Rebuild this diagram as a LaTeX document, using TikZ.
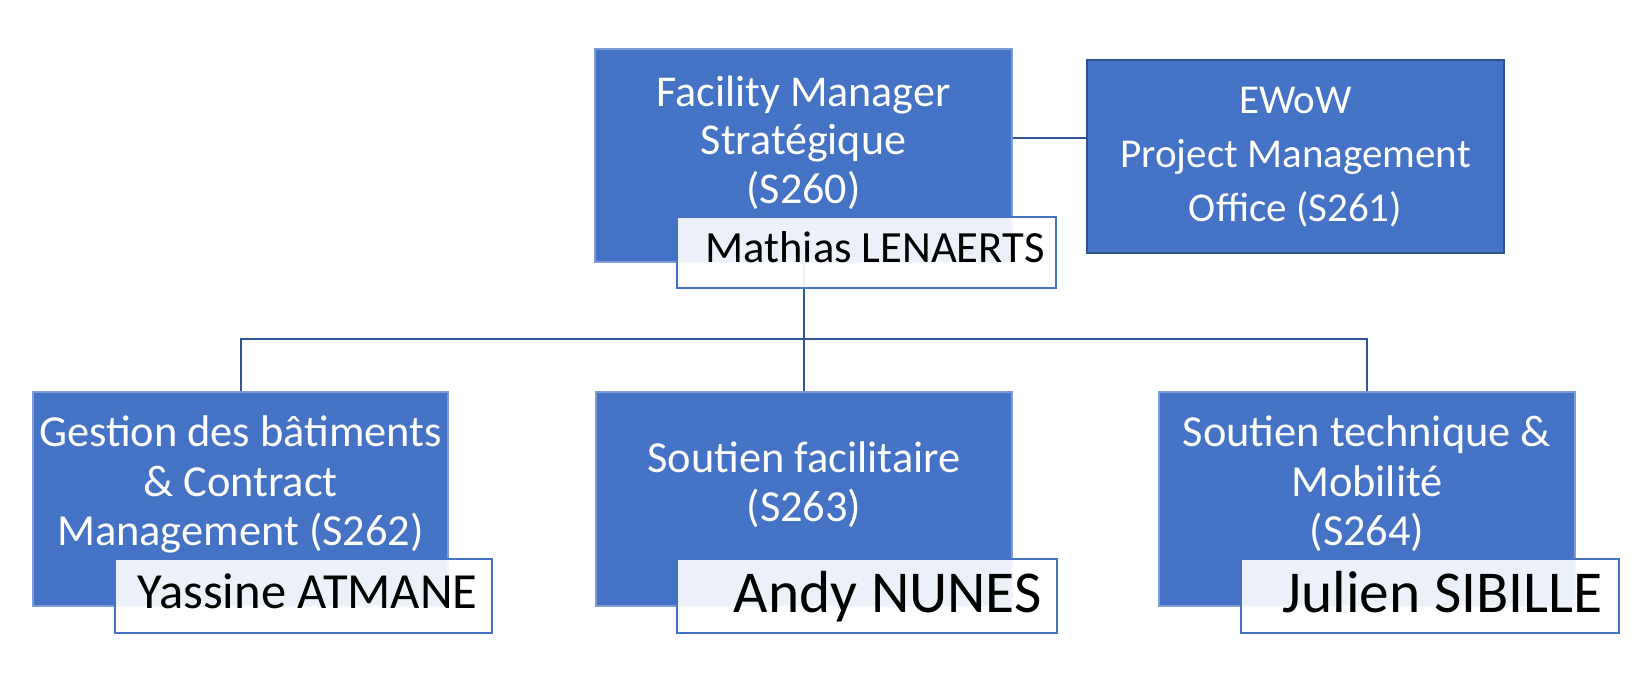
\documentclass[tikz,border=0pt]{standalone}
\usepackage{fontspec}
\setmainfont{Carlito}
\usetikzlibrary{fit,backgrounds}
\definecolor{bluefill}{HTML}{4472C4}
\definecolor{edgelight}{HTML}{7E9BD6}
\definecolor{edgedark}{HTML}{2F528F}
\definecolor{linkblue}{HTML}{2F5597}
\begin{document}
\begin{tikzpicture}[x=0.5pt,y=-0.5pt,
  unitbox/.style={fill=bluefill, draw=edgelight, line width=0.6pt, inner sep=0pt},
  pmobox/.style={fill=bluefill, draw=edgedark, line width=0.8pt, inner sep=0pt},
  namebox/.style={fill=white, fill opacity=0.9, draw=bluefill, line width=1pt, inner sep=0pt},
  boxtext/.style={text=white, align=center, inner sep=0pt, anchor=north},
  toptext/.style={boxtext, font=\fontsize{22pt}{24.25pt}\selectfont},
  pmtext/.style={boxtext, font=\fontsize{20.5pt}{27pt}\selectfont},
  lowtext/.style={boxtext, font=\fontsize{22.2pt}{24.8pt}\selectfont},
  nametext/.style={text=black, inner sep=0pt, anchor=base east},
  link/.style={draw=linkblue, line width=1pt}]
\useasboundingbox (0,0) rectangle (1652,679);

% boxes
\node[unitbox, fit={(595,49) (1012,262)}] (b0) {};
\node[pmobox, fit={(1087,60) (1504,253)}] (pm) {};
\node[unitbox, fit={(33,392) (448,606)}] (b1) {};
\node[unitbox, fit={(596,392) (1012,606)}] (b2) {};
\node[unitbox, fit={(1159,392) (1575,606)}] (b3) {};

% box texts
\node[toptext] (t0) at (803.5,71.8) {\strut Facility Manager\\\strut Stratégique\\\strut (S260)};
\node[pmtext] (tpm) at (1295.5,75.5) {\strut EWoW\\\strut Project Management\\\strut Office (S261)};
\node[lowtext] (t1) at (240.5,411.3) {\strut Gestion des bâtiments\\\strut \& Contract\\\strut Management (S262)};
\node[lowtext] (t2) at (804,437) {\strut Soutien facilitaire\\\strut (S263)};
\node[lowtext] (t3) at (1367,411.3) {\strut Soutien technique \&\\\strut Mobilité\\\strut (S264)};

% name boxes
\node[namebox, fit={(677,217) (1056,288)}] (n0) {};
\node[namebox, fit={(115,559) (492,633)}] (n1) {};
\node[namebox, fit={(677,559) (1057,633)}] (n2) {};
\node[namebox, fit={(1241,559) (1619,633)}] (n3) {};

\node[nametext, font=\fontsize{22.3pt}{26pt}\selectfont] (m0) at (1045,263) {Mathias LENAERTS};
\node[nametext, font=\fontsize{25.3pt}{30pt}\selectfont] (m1) at (478,608) {Yassine ATMANE};
\node[nametext, font=\fontsize{29.7pt}{34pt}\selectfont] (m2) at (1042,612) {Andy NUNES};
\node[nametext, font=\fontsize{29.7pt}{34pt}\selectfont] (m3) at (1603,612) {Julien SIBILLE};

% connectors
\coordinate (bus) at (804,339);
\coordinate (pmy) at (0,138);
\begin{pgfonlayer}{background}
\draw[link] (b0.south) -- (b0.south |- bus);
\draw[link] (b1.north) |- (b3.north |- bus) -- (b3.north);
\draw[link] (b2.north) -- (b2.north |- bus);
\draw[link] (b0.east |- pmy) -- (pm.west |- pmy);
\end{pgfonlayer}
\end{tikzpicture}
\end{document}
